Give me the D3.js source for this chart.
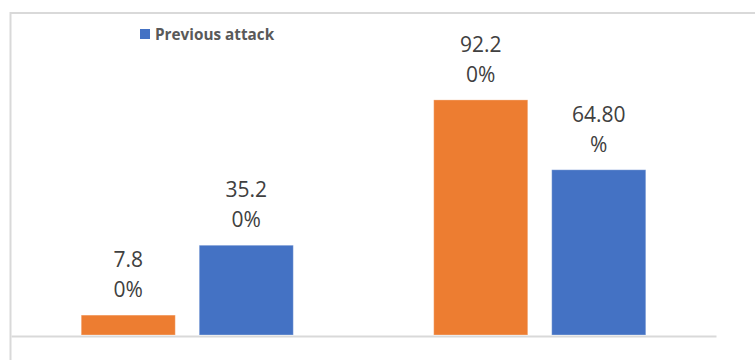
<!DOCTYPE html>
<html>
<head>
<meta charset="utf-8">
<script src="https://cdn.jsdelivr.net/npm/d3@7/dist/d3.min.js"></script>
<style>
  html, body { margin: 0; padding: 0; background: #fff; }
  svg { display: block; }
</style>
</head>
<body>
<svg id="chart" width="755" height="360"></svg>
<script>
// Share of respondents in each answer group, per series (percent)
const categories = ["No", "Yes"];
const seriesNames = ["Current attack", "Previous attack"];
const currentAttack = [7.8, 92.2];
const previousAttack = [35.2, 64.8];
const seriesColors = ["#ED7D31", "#4472C4"];
// Character position where each wrapped data label breaks onto a second line
const labelBreaks = [[3, 4], [4, 5]];
// Legend entries that are shown
const legendSeries = ["Previous attack"];

const seriesValues = [currentAttack, previousAttack];

const svg = d3.select("#chart");
const W = 755, H = 360;

// Chart frame (light grey border)
svg.append("rect")
  .attr("x", 10.5).attr("y", 13)
  .attr("width", W).attr("height", H)
  .attr("fill", "#fff")
  .attr("stroke", "#d9d9d9").attr("stroke-width", 2);

const plot = { left: 11, right: 716, top: 80, bottom: 335 };

const x0 = d3.scaleBand()
  .domain(categories)
  .range([plot.left, plot.right])
  .paddingInner(0).paddingOuter(0);

const x1 = d3.scaleBand()
  .domain(seriesNames)
  .range([0, x0.bandwidth()])
  .paddingInner(0.203)
  .paddingOuter(0.595);

const y = d3.scaleLinear()
  .domain([0, 100])
  .range([plot.bottom, plot.top]);

const fmt = d3.format(".2f");

const rows = [];
categories.forEach((c, ci) => {
  seriesNames.forEach((s, si) => {
    rows.push({ cat: c, series: s, value: seriesValues[si][ci],
                color: seriesColors[si], brk: labelBreaks[si][ci] });
  });
});

// Bars
svg.append("g").selectAll("rect")
  .data(rows)
  .join("rect")
  .attr("x", d => x0(d.cat) + x1(d.series))
  .attr("y", d => y(d.value))
  .attr("width", x1.bandwidth())
  .attr("height", d => y(0) - y(d.value))
  .attr("fill", d => d.color)
  .attr("stroke", "#fff").attr("stroke-opacity", 0.3).attr("stroke-width", 1);

// Category axis (baseline only)
const xAxis = svg.append("g")
  .attr("transform", `translate(0,${plot.bottom + 1})`)
  .call(d3.axisBottom(x0).tickSize(0).tickFormat(""));
xAxis.select(".domain").attr("stroke", "#d9d9d9").attr("stroke-width", 2);

// Wrapped data labels above each bar
const labels = svg.append("g").selectAll("text")
  .data(rows)
  .join("text")
  .attr("x", d => x0(d.cat) + x1(d.series) + x1.bandwidth() / 2)
  .attr("y", d => y(d.value) - 18 - 30)
  .attr("text-anchor", "middle")
  .attr("font-family", "'Open Sans', sans-serif")
  .attr("font-size", 21)
  .attr("fill", "#404040");

labels.each(function (d) {
  const txt = fmt(d.value) + "%";
  const lines = [txt.slice(0, d.brk), txt.slice(d.brk)];
  const t = d3.select(this);
  lines.forEach((ln, i) => {
    t.append("tspan")
      .attr("x", t.attr("x"))
      .attr("dy", i === 0 ? 0 : 30)
      .text(ln);
  });
});

// Legend
const legend = svg.append("g").selectAll("g")
  .data(legendSeries)
  .join("g")
  .attr("transform", "translate(140,29)");
legend.append("rect")
  .attr("width", 10).attr("height", 10)
  .attr("fill", d => seriesColors[seriesNames.indexOf(d)]);
legend.append("text")
  .attr("x", 15).attr("y", 11)
  .attr("font-family", "'Open Sans', sans-serif")
  .attr("font-weight", 700)
  .attr("font-size", 15.3)
  .attr("fill", "#595959")
  .text(d => d);
</script>
</body>
</html>
